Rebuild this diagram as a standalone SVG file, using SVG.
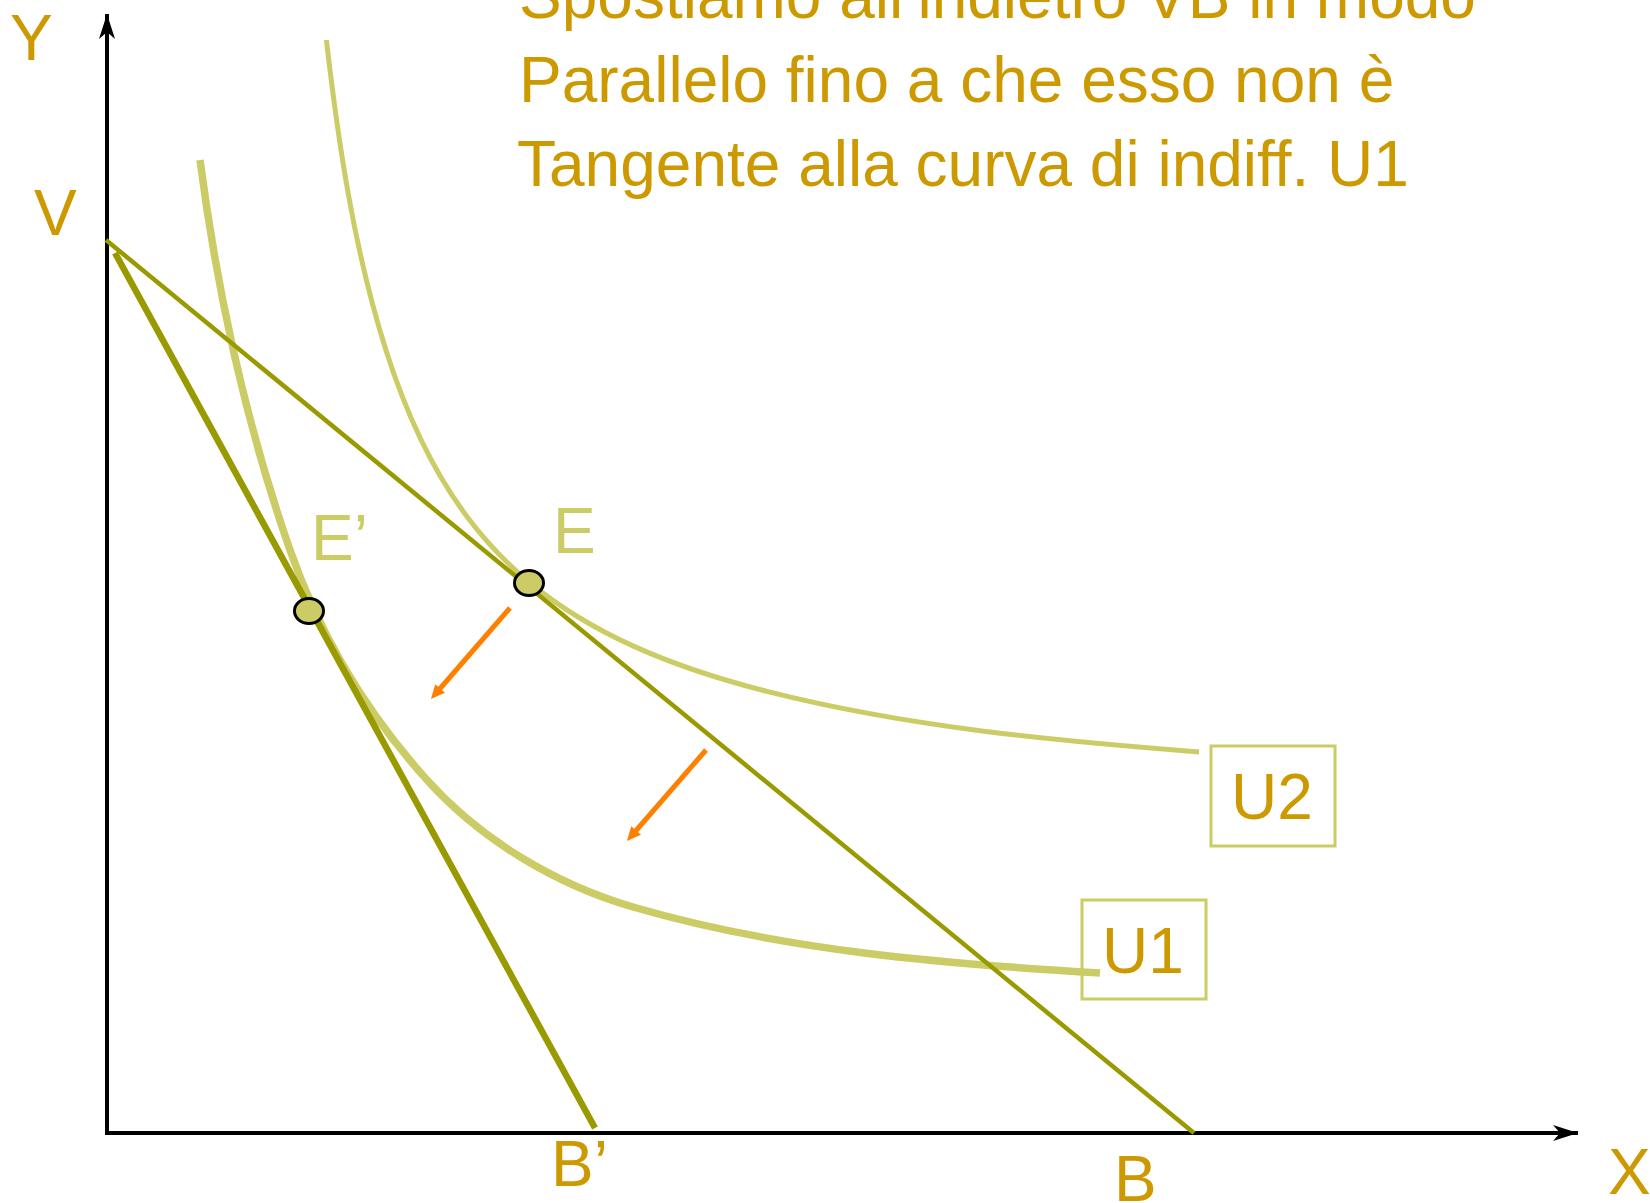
<svg xmlns="http://www.w3.org/2000/svg" width="1650" height="1203" viewBox="0 0 1650 1203">
  <style>
    .lbl { font-family: "Liberation Sans", Arial, sans-serif; font-size: 64px; fill: #CC9900; }
    .pt { font-family: "Liberation Sans", Arial, sans-serif; font-size: 64px; fill: #CCCC66; }
    .axis { stroke: #000000; stroke-width: 4; fill: none; }
    .curve { stroke: #CCCC66; fill: none; stroke-linecap: butt; }
    .budget { stroke: #999900; fill: none; }
    .move { stroke: #FF8000; stroke-width: 5; fill: none; }
    .dot { fill: #CCCC66; stroke: #000000; stroke-width: 3; }
    .box { fill: none; stroke: #CCCC66; stroke-width: 3; }
  </style>
  <defs>
    <marker id="axhead" markerUnits="userSpaceOnUse" markerWidth="30" markerHeight="20" viewBox="-26 -10 30 20" refX="0" refY="0" orient="auto">
      <path d="M0,0 L-25,-8 L-18,0 L-25,8 Z" fill="#000000"/>
    </marker>
    <marker id="orhead" markerUnits="userSpaceOnUse" markerWidth="24" markerHeight="20" viewBox="-12 -10 24 20" refX="0" refY="0" orient="auto">
      <path d="M8,0 L-6,-6.5 L-6,6.5 Z" fill="#FF8000"/>
    </marker>
  </defs>
  <rect width="1650" height="1203" fill="#FFFFFF"/>

  <g id="title">
    <text class="lbl" x="519" y="18">Spostiamo all’indietro VB in modo</text>
    <text class="lbl" x="519" y="102">Parallelo fino a che esso non è</text>
    <text class="lbl" x="517" y="186">Tangente alla curva di indiff. U1</text>
  </g>

  <g id="connectors">
    <line id="y-axis" class="axis" x1="107" y1="1135" x2="107" y2="14" marker-end="url(#axhead)"/>
    <line id="x-axis" class="axis" x1="105" y1="1133" x2="1578" y2="1133" marker-end="url(#axhead)"/>
    <path id="curve-U2" class="curve" stroke-width="5" d="M326.4,40 C338.5,144.5 354.1,249.7 385.9,350 C404.6,409 430.1,467.5 467.3,517 C485.2,540.9 506,562.9 529,582 C560.6,608.3 596.6,629.5 634,646.4 C677,665.8 722.3,680.1 768,691.7 C908.6,727.3 1054.4,740.8 1199,752"/>
    <path id="curve-U1" class="curve" stroke-width="7.5" d="M200,160 C217.2,292.3 246,424.1 290,550 C319.5,634.3 367.2,713.6 427,780 C481,839.9 555.6,884.5 633,907 C784,950.9 943,963.6 1100,973"/>
    <line id="budget-VB" class="budget" stroke-width="4.5" x1="106" y1="240" x2="1194" y2="1133"/>
    <line id="budget-VB2" class="budget" stroke-width="6.5" x1="115" y1="253" x2="595" y2="1128"/>
    <line id="shift-1" class="move" x1="510" y1="608" x2="436.2" y2="693" marker-end="url(#orhead)"/>
    <line id="shift-2" class="move" x1="706" y1="750" x2="632.2" y2="835" marker-end="url(#orhead)"/>
  </g>

  <g id="axis-labels">
    <text class="lbl" x="10" y="60">Y</text>
    <text class="lbl" x="1608" y="1194">X</text>
  </g>
  <g id="node-V"><text class="lbl" x="34" y="235">V</text></g>
  <g id="node-B"><text class="lbl" x="1114" y="1201">B</text></g>
  <g id="node-B2"><text class="lbl" x="551" y="1186">B’</text></g>

  <g id="node-E">
    <ellipse class="dot" cx="529" cy="583" rx="14.5" ry="12.5"/>
    <text class="pt" x="553" y="553">E</text>
  </g>
  <g id="node-E2">
    <ellipse class="dot" cx="309" cy="611" rx="14.5" ry="12.5"/>
    <text class="pt" x="311" y="560">E’</text>
  </g>

  <g id="node-U2">
    <rect class="box" x="1211" y="746" width="124" height="100"/>
    <text class="lbl" x="1231" y="819">U2</text>
  </g>
  <g id="node-U1">
    <rect class="box" x="1082" y="900" width="124" height="99"/>
    <text class="lbl" x="1102" y="973">U1</text>
  </g>
</svg>
